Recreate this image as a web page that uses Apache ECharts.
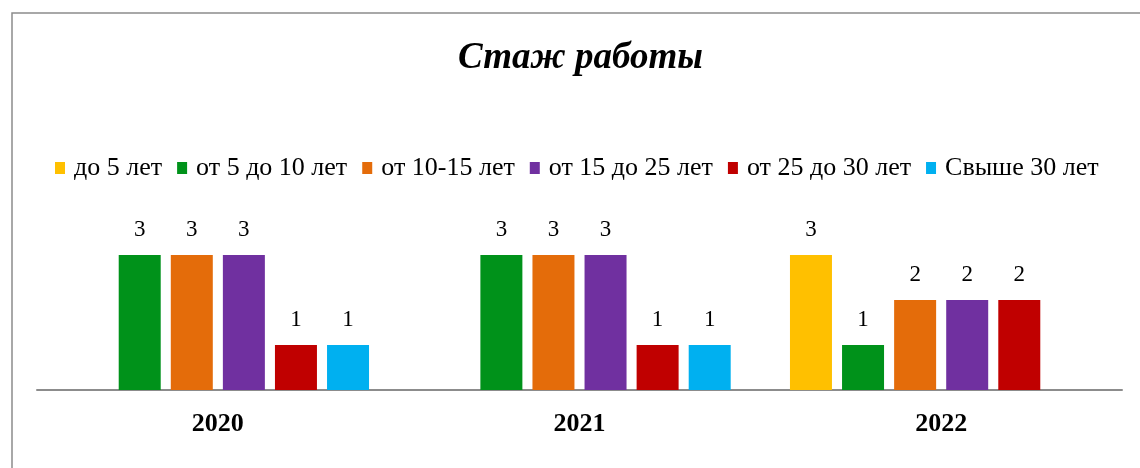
<!DOCTYPE html>
<html>
<head>
<meta charset="utf-8">
<script src="https://cdn.jsdelivr.net/npm/echarts@6/dist/echarts.min.js"></script>
<style>
  html, body { margin: 0; padding: 0; background: #fff; }
  #chart { width: 1140px; height: 468px; }
</style>
</head>
<body>
<div id="chart"></div>
<script>
// данные диаграммы
var years = ['2020', '2021', '2022'];
var seriesNames = ['до 5 лет', 'от 5 до 10 лет', 'от 10-15 лет', 'от 15 до 25 лет', 'от 25 до 30 лет', 'Свыше 30 лет'];
var upTo5 = [null, null, 3];
var from5to10 = [3, 3, 1];
var from10to15 = [3, 3, 2];
var from15to25 = [3, 3, 2];
var from25to30 = [1, 1, 2];
var over30 = [1, 1, null];
var colors = ['#FFC000', '#00921A', '#E46C0A', '#7030A0', '#C00000', '#00B0F0'];

var values = [upTo5, from5to10, from10to15, from15to25, from25to30, over30];
var font = '"Liberation Serif", "DejaVu Serif", serif';

var myChart = echarts.init(document.getElementById('chart'));

var series = [];
for (var i = 0; i < seriesNames.length; i++) {
  series.push({
    name: seriesNames[i],
    type: 'bar',
    data: values[i],
    barWidth: 42,
    barGap: '24%',
    itemStyle: { color: colors[i] },
    label: {
      show: true,
      position: 'top',
      distance: 14,
      color: '#000',
      fontFamily: font,
      fontSize: 23
    }
  });
}

myChart.setOption({
  animation: false,
  backgroundColor: '#fff',
  color: colors,
  graphic: [{
    type: 'rect',
    shape: { x: 12, y: 13, width: 1200, height: 500 },
    style: { fill: 'none', stroke: '#8c8c8c', lineWidth: 1.5 },
    silent: true
  }],
  title: {
    text: 'Стаж работы',
    left: 453,
    top: 35,
    textStyle: {
      fontFamily: font,
      fontStyle: 'italic',
      fontWeight: 'bold',
      fontSize: 37,
      color: '#000'
    }
  },
  legend: {
    top: 150,
    left: 50,
    icon: 'rect',
    itemWidth: 10,
    itemHeight: 12,
    itemGap: 15,
    textStyle: {
      fontFamily: font,
      fontSize: 26,
      color: '#000',
      padding: [0, 0, 0, 4]
    }
  },
  grid: {
    left: 37,
    right: 18,
    top: 210,
    bottom: 78
  },
  xAxis: {
    type: 'category',
    data: years,
    axisTick: { show: false },
    axisLine: { lineStyle: { color: '#8c8c8c', width: 2 } },
    axisLabel: {
      margin: 21,
      color: '#000',
      fontFamily: font,
      fontWeight: 'bold',
      fontSize: 26
    }
  },
  yAxis: {
    type: 'value',
    min: 0,
    max: 4,
    show: false
  },
  series: series
});
</script>
</body>
</html>
